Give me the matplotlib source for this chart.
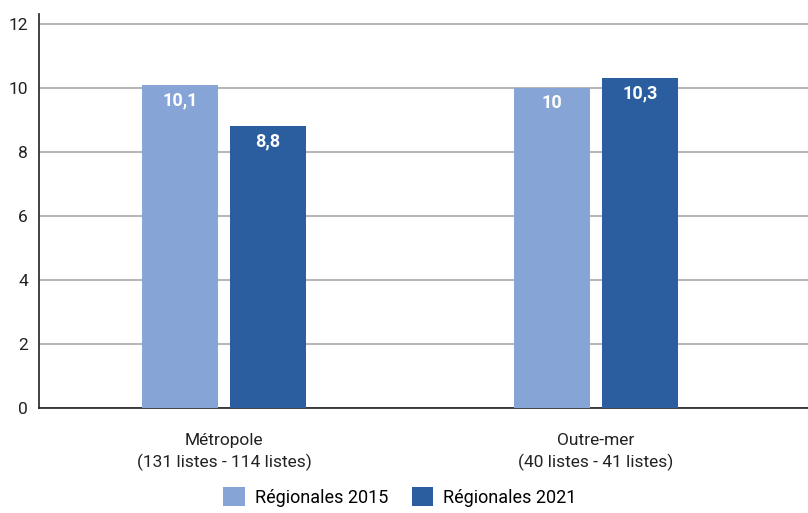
import matplotlib
matplotlib.use("Agg")
import matplotlib.pyplot as plt
from matplotlib.patches import Patch
import numpy as np

categories = ["Métropole\n(131 listes - 114 listes)", "Outre-mer\n(40 listes - 41 listes)"]
series_names = ["Régionales 2015", "Régionales 2021"]
values_2015 = [10.1, 10.0]
values_2021 = [8.8, 10.3]
labels_2015 = ["10,1", "10"]
labels_2021 = ["8,8", "10,3"]
colors = ["#86A5D6", "#2A5E9E"]

plt.rcParams['font.family'] = ['Roboto', 'DejaVu Sans']

fig = plt.figure(figsize=(8.08, 5.13), dpi=100)
ax = fig.add_axes([39/808, 1-408/513, 769/808, 393.6/513])

x = np.arange(len(categories))
w = 0.204
off = 0.118
b1 = ax.bar(x - off, values_2015, w, color=colors[0], zorder=3)
b2 = ax.bar(x + off, values_2021, w, color=colors[1], zorder=3)

for bars, labs in ((b1, labels_2015), (b2, labels_2021)):
    for r, lab in zip(bars, labs):
        ax.text(r.get_x() + r.get_width()/2, r.get_height() - 0.2, lab,
                ha='center', va='top', color='white', fontsize=13,
                fontweight='bold', zorder=4)

ax.set_xlim(-0.497, 1.57)
ax.set_ylim(0, 12.3)
ax.set_yticks([0, 2, 4, 6, 8, 10, 12])
ax.set_yticklabels(["0", "2", "4", "6", "8", "10", "12"])
ax.set_xticks(x)
ax.set_xticklabels(categories, linespacing=1.4)
ax.tick_params(axis='both', length=0, labelsize=12.5, colors='#222222')
ax.tick_params(axis='x', pad=18, labelsize=12.5)
ax.tick_params(axis='y', pad=8)
ax.yaxis.grid(True, color='#a8a8a8', linewidth=1.2, zorder=0)
ax.set_axisbelow(True)
for s in ['top', 'right']:
    ax.spines[s].set_visible(False)
ax.spines['left'].set_color('#222222')
ax.spines['bottom'].set_color('#222222')
ax.spines['left'].set_linewidth(1.2)
ax.spines['bottom'].set_linewidth(1.2)

handles = [Patch(facecolor=c, label=n) for c, n in zip(colors, series_names)]
fig.legend(handles=handles, loc='lower center', bbox_to_anchor=(0.495, -0.012),
           ncol=2, frameon=False, fontsize=13, handlelength=1.2, handleheight=1.2,
           columnspacing=1.3, handletextpad=0.55, borderaxespad=0.3)

fig.savefig("out.png", dpi=100)
